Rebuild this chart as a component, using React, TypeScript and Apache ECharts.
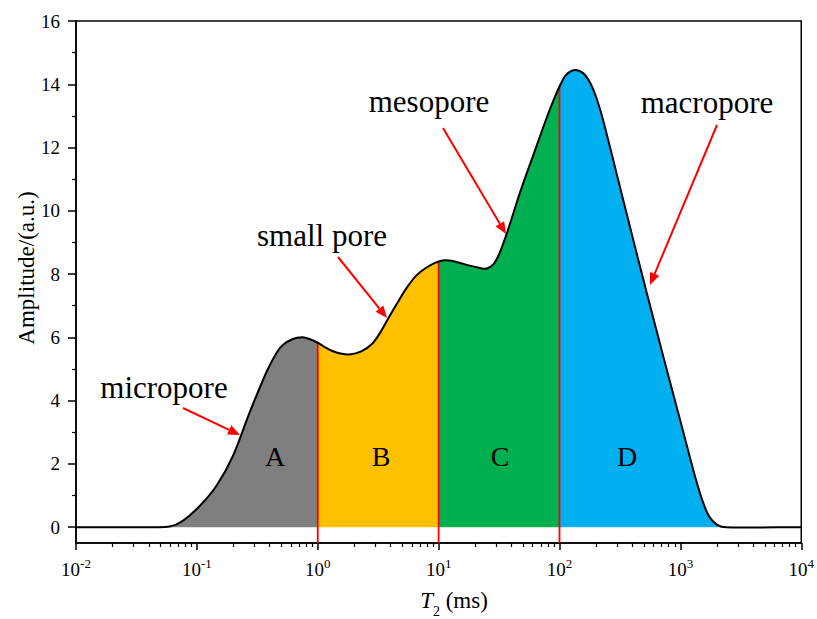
import React, { useEffect, useRef } from 'react';
import * as echarts from 'echarts';

// T2 relaxation time (ms) and amplitude (a.u.)
const T2 = [
  0.01, 0.0408, 0.0597, 0.0764, 0.1055, 0.1449, 0.1987, 0.2729, 0.375, 0.453, 0.511, 0.621, 0.747, 0.853,
  1, 1.135, 1.321, 1.538, 1.825, 2.293, 2.825, 3.29, 3.83, 4.54, 5.39, 6.52, 7.88,
  10, 12.2, 16.8, 21.6, 24.7, 28.2, 31.6, 35.4, 39.7, 45.3, 52.7, 63.8, 77.1, 88.1,
  100, 112.8, 133.8, 155.9, 177.9, 199.5, 223.5, 250.5, 280.7, 314.6, 395.3, 520.8, 740.3,
  1022, 1386, 1675, 1988, 2404, 10000,
];
const amplitude = [
  0, 0, 0.02, 0.2, 0.67, 1.3, 2.25, 3.62, 4.89, 5.49, 5.75, 5.95, 6.0, 5.95,
  5.83, 5.7, 5.57, 5.49, 5.46, 5.56, 5.8, 6.15, 6.6, 7.08, 7.54, 7.95, 8.2,
  8.4, 8.43, 8.3, 8.2, 8.17, 8.3, 8.62, 9.12, 9.69, 10.38, 11.11, 11.99, 12.87, 13.44,
  13.93, 14.29, 14.45, 14.36, 14.07, 13.63, 13.03, 12.3, 11.55, 10.79, 9.28, 7.48, 5.24,
  3.22, 1.33, 0.44, 0.09, 0, 0,
];

const boundaries = [1, 10, 100];
const regionColors = ['#7F7F7F', '#FFC000', '#00B050', '#00B0F0'];
const regionLetters = ['A', 'B', 'C', 'D'];
const poreLabels = ['micropore', 'small pore', 'mesopore', 'macropore'];

const yTicks = [0, 2, 4, 6, 8, 10, 12, 14, 16];
const yMinorTicks = [1, 3, 5, 7, 9, 11, 13, 15];
const xTicks = [0.01, 0.1, 1, 10, 100, 1000, 10000];

const FONT = '"Liberation Serif", "Times New Roman", serif';

function xMinorTicks(): number[] {
  const out: number[] = [];
  for (let i = 0; i < xTicks.length - 1; i++) {
    for (let k = 2; k <= 9; k++) out.push(+(xTicks[i] * k).toPrecision(3));
  }
  return out;
}

function arrow(x1: number, y1: number, x2: number, y2: number): any[] {
  const ang = Math.atan2(y2 - y1, x2 - x1);
  const L = 12;
  const W = 5;
  const bx = x2 - L * Math.cos(ang);
  const by = y2 - L * Math.sin(ang);
  const px = -Math.sin(ang);
  const py = Math.cos(ang);
  return [
    {
      type: 'line',
      shape: { x1, y1, x2: bx, y2: by },
      style: { stroke: '#FF0000', lineWidth: 2 },
      z: 100,
    },
    {
      type: 'polygon',
      shape: {
        points: [
          [x2, y2],
          [bx + px * W, by + py * W],
          [bx - px * W, by - py * W],
        ],
      },
      style: { fill: '#FF0000' },
      z: 100,
    },
  ];
}

// Smooth curve (cubic Hermite in screen space) through points mapped by the axes
function renderCurve(params: any, api: any) {
  if (params.dataIndex !== 0) return null;
  const pts: number[][] = T2.map((t, i) => api.coord([t, amplitude[i]]));
  const n = pts.length;
  const m = pts.map((p, i) => {
    if (i === 0) return (pts[1][1] - p[1]) / (pts[1][0] - p[0]);
    if (i === n - 1) return (p[1] - pts[n - 2][1]) / (p[0] - pts[n - 2][0]);
    return (pts[i + 1][1] - pts[i - 1][1]) / (pts[i + 1][0] - pts[i - 1][0]);
  });
  const seg = (i: number) => {
    const a = pts[i];
    const b = pts[i + 1];
    const h = (b[0] - a[0]) / 3;
    return `C${a[0] + h},${a[1] + m[i] * h} ${b[0] - h},${b[1] - m[i + 1] * h} ${b[0]},${b[1]}`;
  };
  const baseY = api.coord([T2[0], 0])[1];
  const cuts = [0, ...boundaries.map((b) => T2.indexOf(b)), n - 1];
  const children: any[] = [];
  for (let r = 0; r < cuts.length - 1; r++) {
    const a = cuts[r];
    const b = cuts[r + 1];
    let d = `M${pts[a][0]},${baseY} L${pts[a][0]},${pts[a][1]} `;
    for (let i = a; i < b; i++) d += seg(i) + ' ';
    d += `L${pts[b][0]},${baseY} Z`;
    children.push({ type: 'path', shape: { pathData: d }, style: { fill: regionColors[r], stroke: null }, z2: 1 });
  }
  const bottom = params.coordSys.y + params.coordSys.height;
  boundaries.forEach((bv) => {
    const p = pts[T2.indexOf(bv)];
    children.push({
      type: 'line',
      shape: { x1: p[0], y1: bottom, x2: p[0], y2: p[1] },
      style: { stroke: '#FF0000', lineWidth: 1.8 },
      z2: 2,
    });
  });
  let c = `M${pts[0][0]},${pts[0][1]} `;
  for (let i = 0; i < n - 1; i++) c += seg(i) + ' ';
  children.push({ type: 'path', shape: { pathData: c }, style: { fill: 'none', stroke: '#000', lineWidth: 2 }, z2: 3 });
  return { type: 'group', children };
}

export default function App() {
  const ref = useRef<HTMLDivElement>(null);
  useEffect(() => {
    const chart = echarts.init(ref.current!, null, { renderer: 'svg' });

    const labelPos = [
      [164, 387],
      [322, 235],
      [429, 101],
      [707, 102],
    ];
    const arrows = [
      [183, 408, 240, 435],
      [338, 257, 387, 318],
      [443, 128, 506, 234],
      [717, 125, 650, 285],
    ];
    const letterPos = [
      [275, 456],
      [381, 456],
      [500, 456],
      [627, 456],
    ];

    const graphics: any[] = [];
    poreLabels.forEach((txt, i) => {
      graphics.push({
        type: 'text',
        x: labelPos[i][0],
        y: labelPos[i][1],
        style: {
          text: txt,
          font: `31px ${FONT}`,
          fill: '#000',
          textAlign: 'center',
          textVerticalAlign: 'middle',
        },
        z: 100,
      });
    });
    arrows.forEach((a) => graphics.push(...arrow(a[0], a[1], a[2], a[3])));
    regionLetters.forEach((txt, i) => {
      graphics.push({
        type: 'text',
        x: letterPos[i][0],
        y: letterPos[i][1],
        style: {
          text: txt,
          font: `28px ${FONT}`,
          fill: '#000',
          textAlign: 'center',
          textVerticalAlign: 'middle',
        },
        z: 100,
      });
    });
    // x axis name
    graphics.push({
      type: 'text',
      x: 454,
      y: 602,
      style: {
        text: '{i|T}{s|2}{n| (ms)}',
        textAlign: 'center',
        textVerticalAlign: 'middle',
        rich: {
          i: { fontFamily: FONT, fontSize: 23, fontStyle: 'italic', fill: '#000', lineHeight: 26, verticalAlign: 'top' },
          s: { fontFamily: FONT, fontSize: 14, fill: '#000', lineHeight: 26, verticalAlign: 'bottom', padding: [0, 0, -3, 0] },
          n: { fontFamily: FONT, fontSize: 23, fill: '#000', lineHeight: 26, verticalAlign: 'top' },
        },
      },
    });
    // y axis name
    graphics.push({
      type: 'text',
      x: 26,
      y: 268,
      rotation: Math.PI / 2,
      style: {
        text: 'Amplitude/(a.u.)',
        font: `23px ${FONT}`,
        fill: '#000',
        textAlign: 'center',
        textVerticalAlign: 'middle',
      },
    });

    const option: any = {
      animation: false,
      backgroundColor: '#fff',
      grid: {
        left: 76,
        right: 14,
        top: 21,
        bottom: 76,
        show: true,
        borderColor: '#000',
        borderWidth: 1.5,
        backgroundColor: 'transparent',
      },
      xAxis: [
        {
          type: 'log',
          logBase: 10,
          min: 0.01,
          max: 10000,
          position: 'bottom',
          axisLine: { show: true, onZero: false, lineStyle: { color: '#000', width: 1.5 } },
          axisTick: { show: true, inside: false, length: 7, customValues: xTicks, lineStyle: { color: '#000', width: 1.5 } },
          splitLine: { show: false },
          minorTick: { show: false },
          axisLabel: {
            customValues: xTicks,
            margin: 14,
            formatter: (v: number) => `{b|10}{s|${Math.round(Math.log10(v))}}`,
            rich: {
              b: { fontFamily: FONT, fontSize: 19, color: '#000', lineHeight: 22, verticalAlign: 'bottom' },
              s: { fontFamily: FONT, fontSize: 13, color: '#000', lineHeight: 22, verticalAlign: 'top' },
            },
          },
        },
        {
          type: 'log',
          logBase: 10,
          min: 0.01,
          max: 10000,
          position: 'bottom',
          axisLine: { show: false, onZero: false },
          axisTick: { show: true, inside: false, length: 4, customValues: xMinorTicks(), lineStyle: { color: '#000', width: 1.2 } },
          axisLabel: { show: false },
          splitLine: { show: false },
        },
      ],
      yAxis: [
        {
          type: 'value',
          min: -0.5,
          max: 16,
          position: 'left',
          axisLine: { show: true, onZero: false, lineStyle: { color: '#000', width: 1.5 } },
          axisTick: { show: true, inside: false, length: 8, customValues: yTicks, lineStyle: { color: '#000', width: 1.5 } },
          splitLine: { show: false },
          axisLabel: {
            customValues: yTicks,
            margin: 16,
            fontFamily: FONT,
            fontSize: 19,
            color: '#000',
          },
        },
        {
          type: 'value',
          min: -0.5,
          max: 16,
          position: 'left',
          axisLine: { show: false, onZero: false },
          axisTick: { show: true, inside: false, length: 4, customValues: yMinorTicks, lineStyle: { color: '#000', width: 1.2 } },
          axisLabel: { show: false },
          splitLine: { show: false },
        },
      ],
      series: [
        {
          type: 'custom',
          coordinateSystem: 'cartesian2d',
          xAxisIndex: 0,
          yAxisIndex: 0,
          data: [[T2[0], amplitude[0]]],
          renderItem: renderCurve,
          silent: true,
          z: 2,
        },
      ],
      graphic: graphics,
    };
    chart.setOption(option);
    return () => chart.dispose();
  }, []);
  return <div ref={ref} style={{ position: 'absolute', left: 0, top: 0, width: 817, height: 619 }} />;
}
